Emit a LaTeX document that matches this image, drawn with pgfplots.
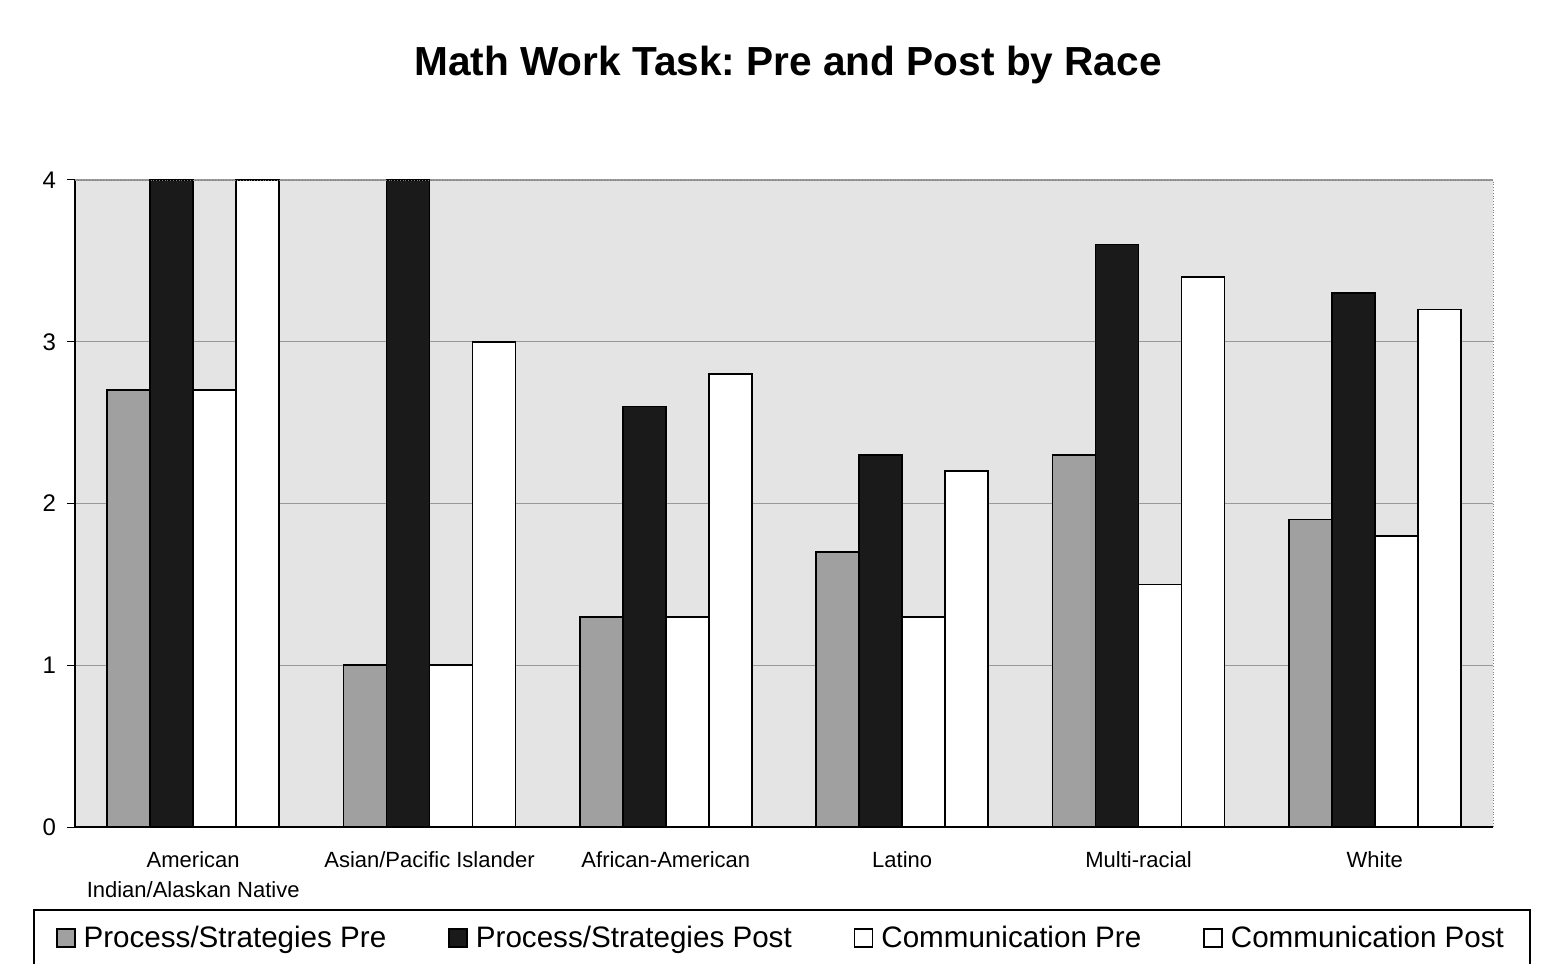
\documentclass[border=0pt]{standalone}
\usepackage{fontspec}
\setmainfont{Liberation Sans}
\usepackage{pgfplots}
\pgfplotsset{compat=1.18}
\definecolor{preg}{HTML}{A0A0A0}
\definecolor{postg}{HTML}{1A1A1A}
\definecolor{bgg}{HTML}{E4E4E4}
\pgfplotsset{sqleg/.style={legend image code/.code={\draw[##1] (0pt,-4.5pt) rectangle (9pt,4.5pt);}}}
\frenchspacing
\begin{document}
\begin{tikzpicture}
\path[use as bounding box] (-37.5pt,-68.5pt) rectangle (739.5pt,413.5pt);
\begin{axis}[
  at={(0pt,0pt)}, anchor=south west,
  scale only axis, width=709pt, height=323.5pt,
  ybar=0pt, bar width=21.5pt,
  xmin=-0.5, xmax=5.5, ymin=0, ymax=4,
  axis x line*=bottom, axis y line*=left,
  axis line style={black, line width=0.6pt},
  axis background/.style={fill=bgg},
  ytick={0,1,2,3,4},
  ymajorgrids, grid style={gray!80, line width=0.6pt},
  tick align=outside,
  major tick length=4pt,
  tick style={black, line width=0.5pt},
  /pgf/number format/assume math mode=true,
  yticklabel style={font=\fontsize{12}{14}\selectfont, xshift=-2pt},
  xtick={0,1,2,3,4,5},
  xticklabels={{American\\Indian/Alaskan Native},{Asian/Pacific Islander},{African-American},{Latino},{Multi-racial},{White}},
  xticklabel style={align=center, font=\fontsize{11}{15}\selectfont, inner sep=0pt, yshift=-8pt},
  major x tick style={draw=none},
  extra x ticks={-0.5,0.5,1.5,2.5,3.5,4.5,5.5},
  extra x tick labels={},
  extra x tick style={major tick length=4pt, tick style={black}},
  sqleg,
  every axis plot/.append style={sqleg},
  legend style={at={(0.4986,-0.172)}, anchor=center, legend columns=4,
    draw=black, line width=0.6pt, fill=white,
    font=\fontsize{14.8}{16}\selectfont,
    inner xsep=11pt, inner ysep=6pt,
    /tikz/every odd column/.append style={column sep=2pt},
    /tikz/every even column/.append style={column sep=29pt}},
  after end axis/.code={
    \draw[gray, densely dotted] (rel axis cs:0,1) -- (rel axis cs:1,1) -- (rel axis cs:1,0);
  },
]
\addplot[fill=preg, draw=black, line width=0.8pt]
  coordinates {(0,2.7) (1,1.0) (2,1.3) (3,1.7) (4,2.3) (5,1.9)};
\addplot[fill=postg, draw=black, line width=0.8pt]
  coordinates {(0,4.0) (1,4.0) (2,2.6) (3,2.3) (4,3.6) (5,3.3)};
\addplot[fill=white, draw=black, line width=0.8pt]
  coordinates {(0,2.7) (1,1.0) (2,1.3) (3,1.3) (4,1.5) (5,1.8)};
\addplot[fill=white, draw=black, line width=0.8pt]
  coordinates {(0,4.0) (1,3.0) (2,2.8) (3,2.2) (4,3.4) (5,3.2)};
\legend{Process/Strategies Pre, Process/Strategies Post, Communication Pre, Communication Post}
\end{axis}
\node[font=\bfseries\fontsize{20.3}{24}\selectfont] at (356.5pt,381pt) {Math Work Task: Pre and Post by Race};
\end{tikzpicture}
\end{document}
